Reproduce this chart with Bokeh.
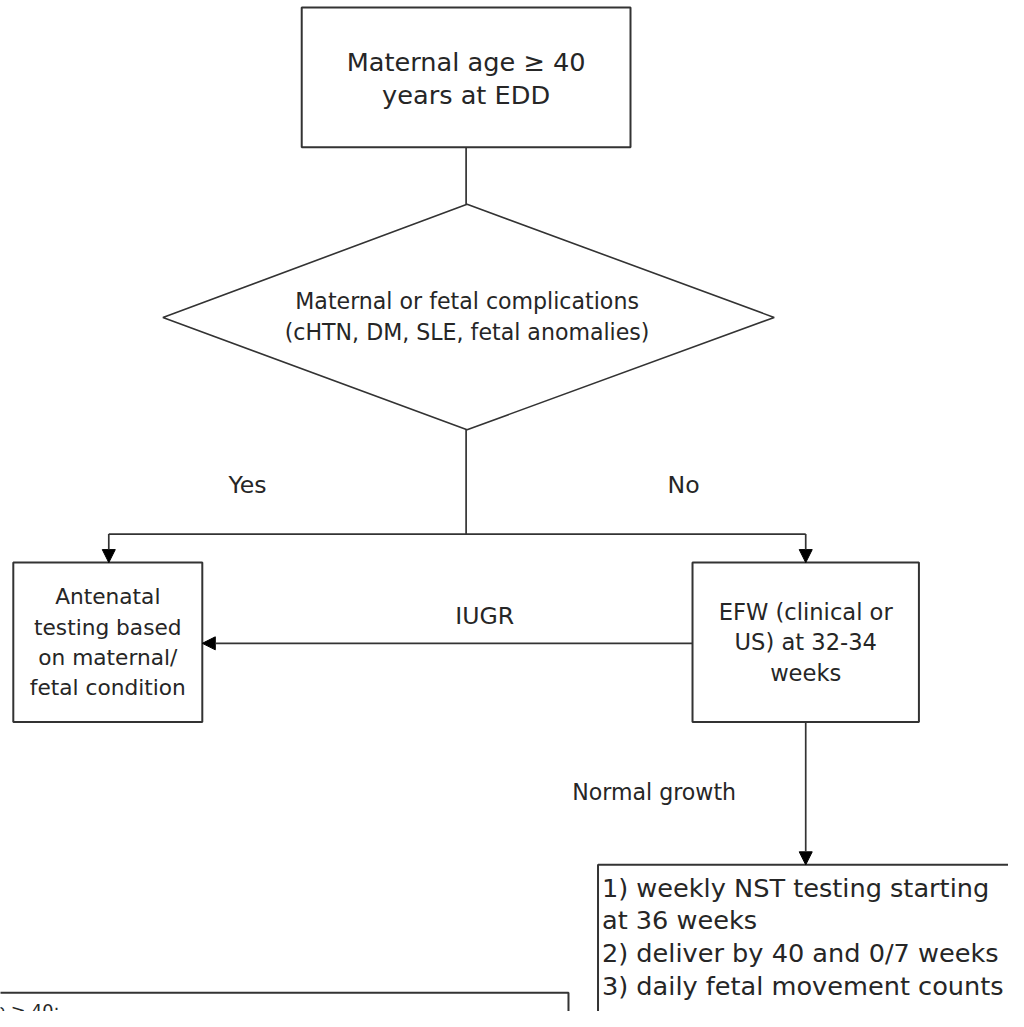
from bokeh.plotting import figure
from bokeh.models import Range1d, Arrow, NormalHead
from bokeh.core.properties import value
from bokeh.embed import file_html
from bokeh.resources import INLINE

# ---------------- content (texts) ----------------
start_label = "Maternal age ≥ 40\nyears at EDD"
decision_label = "Maternal or fetal complications\n(cHTN, DM, SLE, fetal anomalies)"
yes_box_label = "Antenatal\ntesting based\non maternal/\nfetal condition"
no_box_label = "EFW (clinical or\nUS) at 32-34\nweeks"
edge_labels = ["Yes", "No", "IUGR", "Normal growth"]
plan_lines = [
    "1) weekly NST testing starting",
    "at 36 weeks",
    "2) deliver by 40 and 0/7 weeks",
    "3) daily fetal movement counts",
]
footnote_label = "Maternal age ≥ 40:"

# ---------------- layout (reference pixel coordinates) ----------------
box_left = [306, 13, 703, 607, -100]
box_right = [640, 205, 933, 1029, 577]
box_top = [7, 571, 571, 878, 1008]
box_bottom = [149, 733, 733, 1140, 1140]

diamond_x = [474, 786, 474, 165]
diamond_y = [207, 322, 436, 322]

seg_x0 = [473, 473, 110]
seg_y0 = [149, 436, 542]
seg_x1 = [473, 473, 818]
seg_y1 = [207, 542, 542]

arrow_x0 = [110, 818, 703, 818]
arrow_y0 = [542, 542, 653, 733]
arrow_x1 = [110, 818, 205, 818]
arrow_y1 = [571, 571, 653, 878]

edge_label_x = [251, 694, 492, 664]
edge_label_y = [492, 492, 625, 804]

INK = "#262626"
LINE = "#333333"
FONT = "DejaVu Sans"

REF_W, REF_H = 1024, 1027
W, H = 1008, 1011
S = W / REF_W  # font scale so that the whole reference extent fits


def fs(px):
    return f"{px * S:.1f}px"


p = figure(width=W, height=H, output_backend="svg", toolbar_location=None,
           x_range=Range1d(0, REF_W), y_range=Range1d(REF_H, 0),
           min_border=0, outline_line_color=None)
p.axis.visible = False
p.grid.visible = False
p.background_fill_color = "white"
p.border_fill_color = "white"

# boxes
p.quad(left=box_left, right=box_right, top=box_top, bottom=box_bottom,
       fill_color="white", line_color=LINE, line_width=2)

# decision diamond
p.patch(diamond_x, diamond_y, fill_color="white", line_color=LINE, line_width=1.6)

# connector lines
p.segment(x0=seg_x0, y0=seg_y0, x1=seg_x1, y1=seg_y1, line_color=LINE, line_width=1.7)

# arrows
for x0, y0, x1, y1 in zip(arrow_x0, arrow_y0, arrow_x1, arrow_y1):
    p.add_layout(Arrow(x_start=x0, y_start=y0, x_end=x1, y_end=y1,
                       line_color=LINE, line_width=1.7,
                       end=NormalHead(size=13, fill_color="black", line_color="black", line_width=1)))

LH = 1.164  # DejaVu Sans ascent+descent per em

# node texts
p.text(x=[473], y=[79], text=[start_label], text_font=value(FONT), text_font_size=fs(26),
       text_color=INK, text_align="center", text_baseline="middle", text_line_height=33 / (26 * LH))
p.text(x=[474], y=[321], text=[decision_label], text_font=value(FONT), text_font_size=fs(22.5),
       text_color=INK, text_align="center", text_baseline="middle", text_line_height=32 / (22.5 * LH))
p.text(x=[109], y=[652], text=[yes_box_label], text_font=value(FONT), text_font_size=fs(22),
       text_color=INK, text_align="center", text_baseline="middle", text_line_height=31 / (22 * LH))
p.text(x=[818], y=[652], text=[no_box_label], text_font=value(FONT), text_font_size=fs(23),
       text_color=INK, text_align="center", text_baseline="middle", text_line_height=31.5 / (23 * LH))

# edge labels
p.text(x=edge_label_x[:3], y=edge_label_y[:3], text=edge_labels[:3], text_font=value(FONT),
       text_font_size=fs(24), text_color=INK, text_align="center", text_baseline="middle")
p.text(x=edge_label_x[3:], y=edge_label_y[3:], text=edge_labels[3:], text_font=value(FONT),
       text_font_size=fs(22.5), text_color=INK, text_align="center", text_baseline="middle")

# plan box text
p.text(x=[611], y=[951], text=["\n".join(plan_lines)], text_font=value(FONT), text_font_size=fs(26),
       text_color=INK, text_align="left", text_baseline="middle", text_line_height=33 / (26 * LH))

# footnote box text (cut off at the page edge, as in the reference)
p.text(x=[60], y=[1016], text=[footnote_label], text_font=value(FONT), text_font_size=fs(18),
       text_color=INK, text_align="right", text_baseline="top")

open("out.html", "w").write(file_html(p, INLINE))
